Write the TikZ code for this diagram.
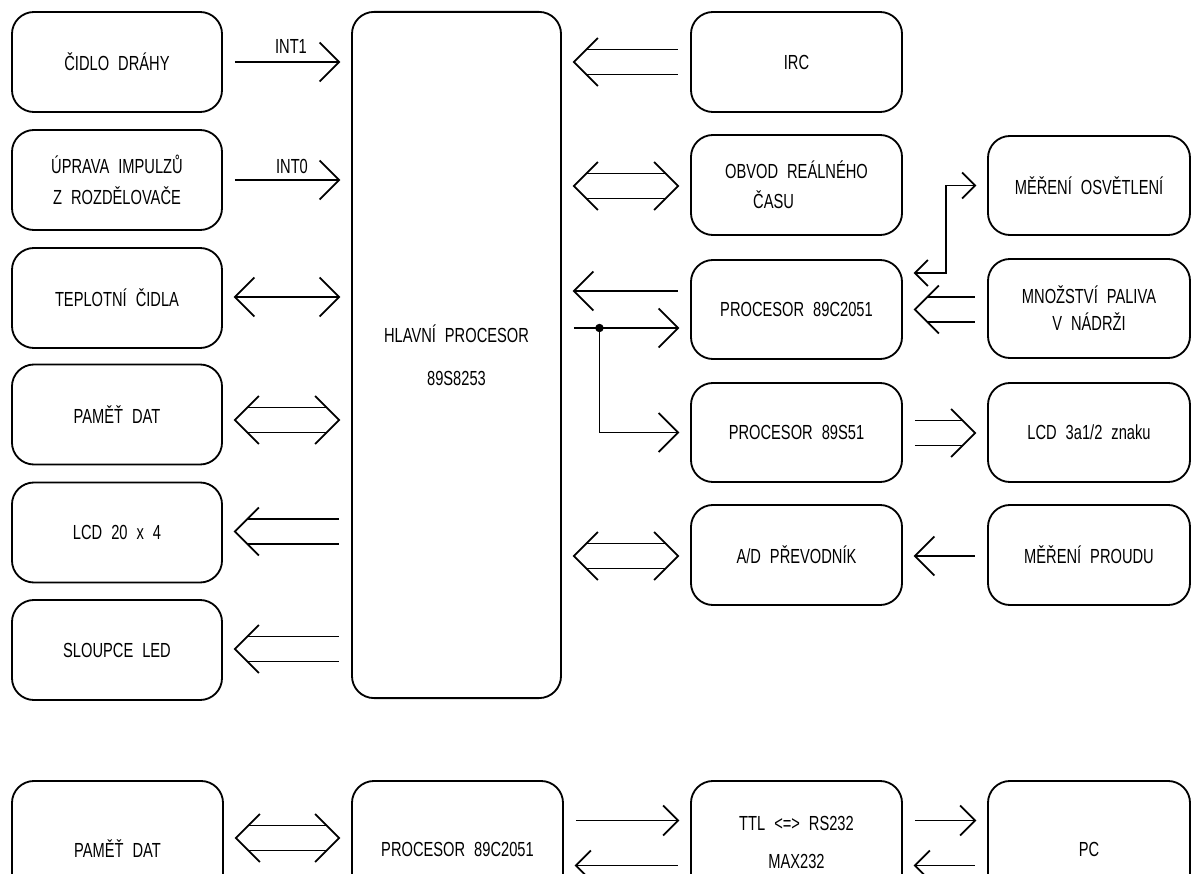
\documentclass[tikz,border=0pt]{standalone}
\usepackage{fontspec}
\setmainfont{Liberation Sans}[FakeStretch=0.72,WordSpace=2.2]
\usetikzlibrary{calc}
\tikzset{
  wire/.style={line width=1.3pt, line join=miter},
  blk/.style={draw, line width=1.3pt, rounded corners=0.55cm, minimum width=5.25cm,
    minimum height=2.5cm, inner sep=0pt, align=center},
  lbl/.style={inner sep=0pt},
  every node/.append style={font=\fontsize{14.5pt}{17pt}\selectfont}
}
% chevron tip at #1, arms offset (#2, +-#3)
\newcommand{\chev}[3]{\draw[wire] ($(#1)+(#2,-#3)$) -- (#1) -- ($(#1)+(#2,#3)$);}
% bus (double) arrow between #1 (left) and #2 (right); #3/#4 = tip at left/right
\newcommand{\bus}[4]{%
  \draw[wire] ($(#1)+(12.5*#3,-12.5)$) -- ($(#2)+(-12.5*#4,-12.5)$);
  \draw[wire] ($(#1)+(12.5*#3,12.5)$) -- ($(#2)+(-12.5*#4,12.5)$);
  \ifnum#3=1 \chev{#1}{24}{24}\fi
  \ifnum#4=1 \chev{#2}{-24}{24}\fi}
% single arrow between #1 (left) and #2 (right); #5 = tip size
\newcommand{\sarr}[5]{%
  \draw[wire] (#1) -- (#2);
  \ifnum#3=1 \chev{#1}{#5}{#5}\fi
  \ifnum#4=1 \chev{#2}{-#5}{#5}\fi}
\begin{document}
\begin{tikzpicture}[x=0.025cm,y=-0.025cm]
\useasboundingbox (0,0) rectangle (1192,874);
\clip (0,0) rectangle (1192,874);
% ---- left column
\node[blk] (cidlo) at (117,62) {ČIDLO DRÁHY};
\node[blk] (uprava) at (117,180) {ÚPRAVA IMPULZŮ\\[5pt]Z ROZDĚLOVAČE};
\node[blk] (tepl) at (117,298) {TEPLOTNÍ ČIDLA};
\node[blk] (pamet) at (117,414.5) {PAMĚŤ DAT};
\node[blk] (lcd) at (117,532.5) {LCD 20 x 4};
\node[blk] (sloup) at (117,650) {SLOUPCE LED};
% ---- main processor
\node[blk, minimum width=5.225cm, minimum height=17.15cm] (main) at (456.5,355)
  {HLAVNÍ PROCESOR\\[13.6pt]89S8253};
% ---- right column 1
\node[blk, minimum width=5.275cm] (irc) at (796.5,62) {IRC};
\node[blk, minimum width=5.275cm, align=left] (obvod) at (796.5,185)
  {OBVOD REÁLNÉHO\\[4.3pt]\hspace*{20pt}ČASU};
\node[blk, minimum width=5.275cm, minimum height=2.475cm] (p2051) at (796.5,309.5) {PROCESOR 89C2051};
\node[blk, minimum width=5.275cm, minimum height=2.475cm] (p8951) at (796.5,432.5) {PROCESOR 89S51};
\node[blk, minimum width=5.275cm] (ad) at (796.5,555) {A/D PŘEVODNÍK};
% ---- right column 2
\node[blk, minimum width=5.05cm, minimum height=2.475cm] (osv) at (1089,185.5) {MĚŘENÍ OSVĚTLENÍ};
\node[blk, minimum width=5.05cm, minimum height=2.475cm] (mnoz) at (1089,308.5)
  {MNOŽSTVÍ PALIVA\\[2.2pt]V NÁDRŽI};
\node[blk, minimum width=5.05cm, minimum height=2.475cm] (lcd3) at (1089,432.5) {LCD 3a1/2 znaku};
\node[blk, minimum width=5.05cm] (proud) at (1089,555) {MĚŘENÍ PROUDU};
% ---- bottom row (lower edges run off the page)
\node[blk, minimum width=5.275cm, minimum height=3.4cm] (pamet2) at (117.5,849) {PAMĚŤ DAT};
\node[blk, minimum width=5.275cm, minimum height=3.4cm] (proc3) at (457.5,849) {PROCESOR 89C2051};
\node[blk, minimum width=5.275cm, minimum height=3.05cm] (ttl) at (796.5,842)
  {TTL <=> RS232\\[10pt]MAX232};
\node[blk, minimum width=5.05cm, minimum height=3.4cm] (pc) at (1089,849) {PC};

% ---- left connectors
\coordinate (a1L) at ($(cidlo.east)+(12,0)$);
\coordinate (a1R) at ($(cidlo.east -| main.west)+(-12,0)$);
\sarr{a1L}{a1R}{0}{1}{19.5}
\node[lbl] (int1) at ($(a1L)!0.5!(a1R)+(4,-16)$) {INT1};
\coordinate (a2L) at ($(uprava.east)+(12,0)$);
\coordinate (a2R) at ($(uprava.east -| main.west)+(-12,0)$);
\sarr{a2L}{a2R}{0}{1}{19.5}
\node[lbl] (int0) at ($(a2L)!0.5!(a2R)+(5,-14)$) {INT0};
\coordinate (a3L) at ($(tepl.east)+(12,-1)$);
\coordinate (a3R) at ($(tepl.east -| main.west)+(-12,-1)$);
\sarr{a3L}{a3R}{1}{1}{19.5}
\coordinate (a4L) at ($(pamet.east)+(12,5.5)$);
\coordinate (a4R) at ($(pamet.east -| main.west)+(-12,5.5)$);
\bus{a4L}{a4R}{1}{1}
\coordinate (a5L) at ($(lcd.east)+(12,-1)$);
\coordinate (a5R) at ($(lcd.east -| main.west)+(-12,-1)$);
\bus{a5L}{a5R}{1}{0}
\coordinate (a6L) at ($(sloup.east)+(12,-1)$);
\coordinate (a6R) at ($(sloup.east -| main.west)+(-12,-1)$);
\bus{a6L}{a6R}{1}{0}

% ---- right connectors (main <-> column 1)
\coordinate (b1L) at ($(irc.west -| main.east)+(12,0)$);
\coordinate (b1R) at ($(irc.west)+(-12,0)$);
\bus{b1L}{b1R}{1}{0}
\coordinate (b2L) at ($(obvod.west -| main.east)+(12,1)$);
\coordinate (b2R) at ($(obvod.west)+(-12,1)$);
\bus{b2L}{b2R}{1}{1}
\coordinate (b3L) at ($(p2051.west -| main.east)+(12,-18.5)$);
\coordinate (b3R) at ($(p2051.west)+(-12,-18.5)$);
\sarr{b3L}{b3R}{1}{0}{19.5}
\coordinate (b4L) at ($(p2051.west -| main.east)+(12,18.5)$);
\coordinate (b4R) at ($(p2051.west)+(-12,18.5)$);
\sarr{b4L}{b4R}{0}{1}{19.5}
\coordinate (br) at ($(b4L)+(25.5,0)$);
\fill (br) circle (3pt);
\coordinate (b5R) at ($(p8951.west)+(-12,0)$);
\draw[wire] (br) |- (b5R);
\chev{b5R}{-19.5}{19.5}
\coordinate (b6L) at ($(ad.west -| main.east)+(12,1)$);
\coordinate (b6R) at ($(ad.west)+(-12,1)$);
\bus{b6L}{b6R}{1}{1}

% ---- column 1 <-> column 2
\coordinate (c1L) at ($(p2051.east)+(12,-36.5)$);
\coordinate (c1R) at ($(osv.west)+(-12,0)$);
\draw[wire] (c1L) -- ++(31,0) |- (c1R);
\chev{c1L}{13}{13}
\chev{c1R}{-13}{13}
\coordinate (c2L) at ($(p2051.east)+(12,0)$);
\coordinate (c2R) at ($(p2051.east -| mnoz.west)+(-12,0)$);
\bus{c2L}{c2R}{1}{0}
\coordinate (c3L) at ($(p8951.east)+(12,0.5)$);
\coordinate (c3R) at ($(p8951.east -| lcd3.west)+(-12,0.5)$);
\bus{c3L}{c3R}{0}{1}
\coordinate (c4L) at ($(ad.east)+(12,1)$);
\coordinate (c4R) at ($(ad.east -| proud.west)+(-12,1)$);
\sarr{c4L}{c4R}{1}{0}{19.5}

% ---- bottom row connectors
\coordinate (d1L) at ($(pamet2.east)+(12,-11)$);
\coordinate (d1R) at ($(pamet2.east -| proc3.west)+(-12,-11)$);
\bus{d1L}{d1R}{1}{1}
\coordinate (d2L) at ($(proc3.east)+(12,-28.5)$);
\coordinate (d2R) at ($(proc3.east -| ttl.west)+(-12,-28.5)$);
\sarr{d2L}{d2R}{0}{1}{15}
\coordinate (d3L) at ($(proc3.east)+(12,16.5)$);
\coordinate (d3R) at ($(proc3.east -| ttl.west)+(-12,16.5)$);
\sarr{d3L}{d3R}{1}{0}{15}
\coordinate (d4L) at ($(ttl.east)+(12,-21.5)$);
\coordinate (d4R) at ($(ttl.east -| pc.west)+(-12,-21.5)$);
\sarr{d4L}{d4R}{0}{1}{15}
\coordinate (d5L) at ($(ttl.east)+(12,23.5)$);
\coordinate (d5R) at ($(ttl.east -| pc.west)+(-12,23.5)$);
\sarr{d5L}{d5R}{1}{0}{15}
\end{tikzpicture}
\end{document}
